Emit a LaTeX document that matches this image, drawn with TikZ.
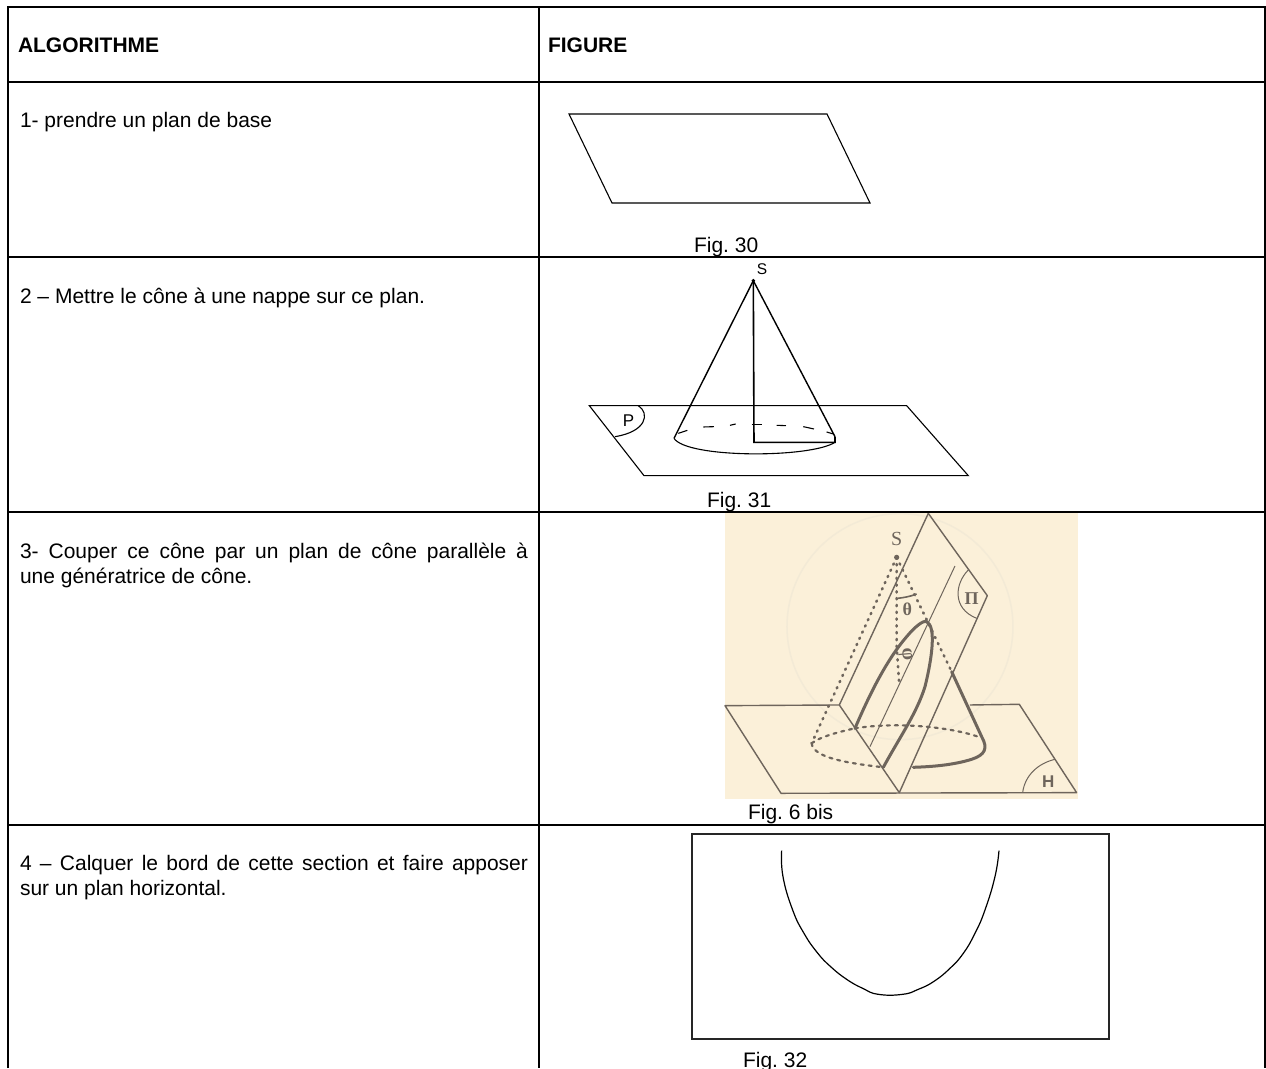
\documentclass[tikz,border=0pt]{standalone}
\usepackage{fontspec}
\setmainfont{Liberation Sans}
\newfontfamily\serifbook{Liberation Serif}
\definecolor{paper}{HTML}{FBF0D9}
\definecolor{ink}{HTML}{6E655C}
\definecolor{ghost}{HTML}{F3EAD6}
\frenchspacing
\tikzset{
  rule/.style={line width=2pt,black},
  lbl/.style={anchor=base west,inner sep=0pt,outer sep=0pt,font=\fontsize{21}{25}\selectfont},
  head/.style={lbl,font=\fontsize{21}{25}\selectfont\bfseries},
  para/.style={anchor=north west,inner sep=0pt,outer sep=0pt,align=left,font=\fontsize{21}{25}\selectfont},
  fine/.style={line width=1.1pt,black},
  etch/.style={line width=1.4pt,ink,line join=round},
  etchthin/.style={line width=1pt,ink},
  etchbold/.style={line width=3pt,ink,line cap=round,line join=round},
  etchdot/.style={line width=2.6pt,ink,dash pattern=on 1.2pt off 5.6pt,line cap=round},
  etchdash/.style={line width=2.2pt,ink,dash pattern=on 3pt off 5pt,line cap=round},
  scanned/.style={inner sep=0pt,outer sep=0pt,text=ink},
  sub31/.style={shift={(570,250)},x=.3333pt,y=-.3333pt},
  sub6/.style={shift={(710,480)},x=.3333pt,y=-.3333pt},
  sub32/.style={shift={(680,820)},x=.3333pt,y=-.3333pt},
}
\begin{document}
\begin{tikzpicture}[x=1pt,y=-1pt]
\useasboundingbox (0,0) rectangle (1266,1068);
\fill[white] (0,0) rectangle (1266,1068);

% picture of step 3 (behind the rules)
\fill[paper] (725,513) rectangle (1078,799);
\begin{scope}[sub6]
  \draw[ghost,line width=1.5pt] (570,440) circle[radius=113pt];
  \coordinate (hTL) at (45,677); \coordinate (hTR) at (928,673);
  \coordinate (hBR) at (1100,938); \coordinate (hBL) at (213,940);
  \coordinate (hinge) at (388,675); \coordinate (foot) at (568,938);
  \coordinate (pTop) at (655,100); \coordinate (pRight) at (832,347);
  \coordinate (apex) at (560,232); \coordinate (gen) at (725,575);
  \coordinate (baseL) at (305,790); \coordinate (baseR) at (825,800);
  \coordinate (sec1) at (435,745); \coordinate (sec2) at (520,862);
  \coordinate (top) at (650,425); \coordinate (axis) at (568,615);
  \draw[etch] (hinge) -- (hTL) -- (hBL) -- (hBR) -- (hTR) -- (780,675);
  \draw[etch] (hinge) -- (foot) -- (pRight) -- (pTop) -- (hinge);
  \draw[etchthin] (480,800) -- (735,258);
  \draw[etchthin] (775,270) .. controls (735,310) and (725,385) .. (800,415);
  \draw[etchthin] (938,938) .. controls (945,885) and (985,850) .. (1035,838);
  \draw[etchdot] (apex) -- (baseL);
  \draw[etchdot] (apex) -- (gen);
  \draw[etchdot] (apex) -- (560,500) -- (axis);
  \draw[etchdash] (baseL) .. controls (330,770) and (390,755) .. (sec1);
  \draw[etchdash] (sec1) .. controls (560,725) and (720,740) .. (810,772);
  \draw[etchdash] (baseL) .. controls (310,835) and (420,850) .. (sec2);
  \draw[etchbold] (sec1) .. controls (480,640) and (530,540) .. (590,470)
     .. controls (615,440) and (640,420) .. (top)
     .. controls (680,440) and (665,540) .. (645,620)
     .. controls (620,700) and (570,770) .. (sec2);
  \draw[etchbold] (gen) -- (815,770) .. controls (835,805) and (825,825) .. (785,838)
     .. controls (730,855) and (670,860) .. (610,862);
  \draw[etch,line width=1.6pt] (563,355) .. controls (580,353) and (600,350) .. (620,342);
  \fill[ink] (apex) circle[radius=2.6pt];
  \node[scanned,font=\serifbook\fontsize{20}{20}\selectfont] (sS) at (560,177) {S};
  \node[scanned,font=\serifbook\bfseries\fontsize{18}{18}\selectfont] (sTheta) at (592,388) {θ};
  \node[scanned,rotate=-85,font=\serifbook\bfseries\fontsize{20}{20}\selectfont] (sPhi) at (586,525) {φ};
  \node[scanned,font=\serifbook\bfseries\fontsize{18}{18}\selectfont] (sPi) at (785,355) {Π};
  \node[scanned,font=\bfseries\fontsize{17}{17}\selectfont] (sH) at (1015,905) {H};
\end{scope}

% table rules
\draw[rule] (8,1068) -- (8,7) -- (1265,7) -- (1265,1068);
\draw[rule] (539,7) -- (539,1068);
\foreach \yy in {82,257,512,825} \draw[rule] (8,\yy) -- (1265,\yy);

% headings and steps
\node[head] (algo) at (18,52) {ALGORITHME};
\node[head] (figh) at (548,52) {FIGURE};
\node[lbl] (st1) at (20,127) {1- prendre un plan de base};
\node[lbl] (st2) at (20,303) {2 – Mettre le cône à une nappe sur ce plan.};
\node[para] (st3) at (20,543) {\makebox[508pt][s]{3- Couper ce cône par un plan de cône parallèle à}\\une génératrice de cône.};
\node[para] (st4) at (20,855) {\makebox[508pt][s]{4 – Calquer le bord de cette section et faire apposer}\\sur un plan horizontal.};

% figure 30
\coordinate (a1) at (569,114); \coordinate (a2) at (827,114);
\coordinate (a3) at (870,203); \coordinate (a4) at (612,203);
\draw[fine] (a1) -- (a2) -- (a3) -- (a4) -- cycle;
\node[lbl] (f30) at (694,252) {Fig. 30};

% figure 31
\begin{scope}[sub31]
  \coordinate (tl) at (58,467); \coordinate (tr) at (1010,467);
  \coordinate (br) at (1195,677); \coordinate (bl) at (222,677);
  \coordinate (sv) at (550,92); \coordinate (lf) at (312,565);
  \coordinate (rt) at (795,560); \coordinate (ft) at (552,577);
  \coordinate (fr) at (795,577);
  \draw[fine] (tl) -- (tr) -- (br) -- (bl) -- cycle;
  \draw[fine,line width=1.4pt] (lf) -- (sv) -- (rt);
  \draw[fine,line width=1.6pt] (sv) -- (ft) -- (fr) -- (rt);
  \draw[fine] (lf) .. controls (350,625) and (720,625) .. (fr);
  \draw[fine] (325,550) -- (352,541);
  \draw[fine] (400,531) -- (432,530);
  \draw[fine] (480,526) -- (497,522);
  \draw[fine] (545,524) -- (575,524);
  \draw[fine] (620,526) -- (648,527);
  \draw[fine] (700,530) -- (732,537);
  \draw[fine] (770,546) -- (790,552);
  \draw[fine] (205,467) .. controls (240,490) and (230,545) .. (135,560);
  \fill (sv) circle[radius=1.9pt];
  \node[inner sep=0pt,font=\fontsize{15.5}{16}\selectfont] (fs) at (576,58) {S};
  \node[inner sep=0pt,font=\fontsize{17}{17}\selectfont] (fp) at (176,511) {P};
\end{scope}
\node[lbl] (f31) at (707,507) {Fig. 31};
\node[lbl] (f6) at (748,819) {Fig. 6 bis};

% figure 32
\begin{scope}[sub32]
  \coordinate (r1) at (35,42); \coordinate (r2) at (1288,657);
  \draw[line width=1.7pt,black!85] (r1) rectangle (r2);
  \draw[line width=1.2pt] plot[smooth,tension=.8] coordinates {(305,92) (309,170) (338,270) (372,340) (412,398) (452,440) (500,478) (548,505) (595,523) (668,523) (715,508) (762,484) (810,445) (850,400) (885,340) (915,270) (945,170) (957,92)};
\end{scope}
\node[lbl] (f32) at (743,1067) {Fig. 32};
\end{tikzpicture}
\end{document}
